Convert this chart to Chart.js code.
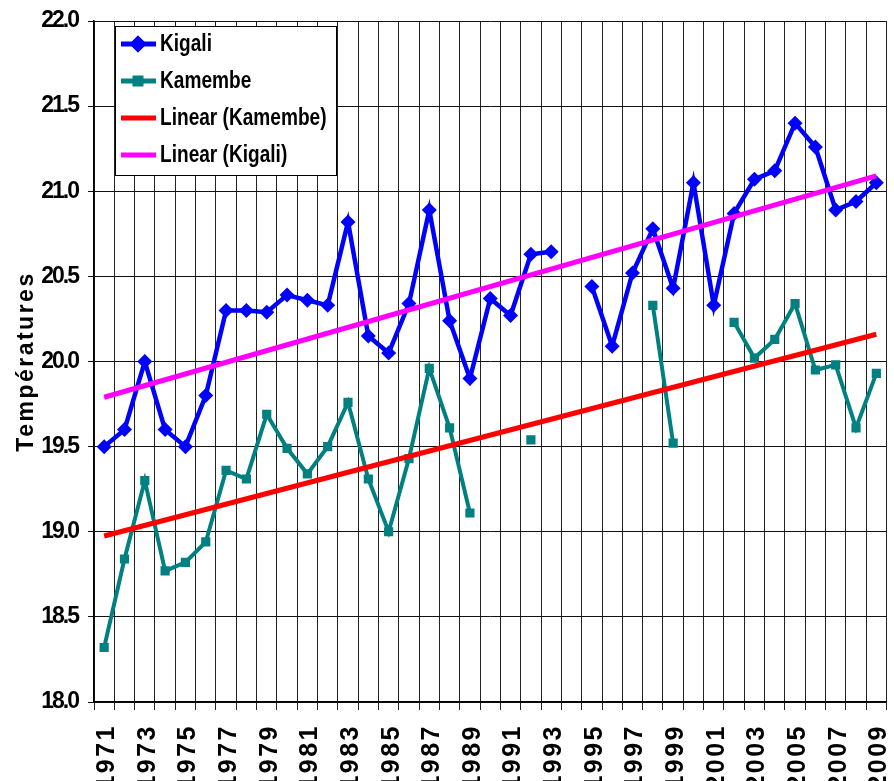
<!DOCTYPE html>
<html>
<head>
<meta charset="utf-8">
<script src="https://cdn.jsdelivr.net/npm/chart.js@4"></script>
<style>
  body { margin: 0; background: #fff; }
  #wrap { width: 894px; height: 781px; }
</style>
</head>
<body>
<div id="wrap"><canvas id="myChart" width="894" height="781"></canvas></div>
<script>
// x labels
const years = ['1971','1972','1973','1974','1975','1976','1977','1978','1979','1980',
  '1981','1982','1983','1984','1985','1986','1987','1988','1989','1990',
  '1991','1992','1993','1994','1995','1996','1997','1998','1999','2000',
  '2001','2002','2003','2004','2005','2006','2007','2008','2009'];

// series values (null = no data)
const kigali = [19.50, 19.60, 20.00, 19.60, 19.50, 19.80, 20.30, 20.30, 20.29, 20.39,
  20.36, 20.33, 20.82, 20.15, 20.05, 20.34, 20.89, 20.24, 19.90, 20.37,
  20.27, 20.63, 20.645, null, 20.44, 20.09, 20.52, 20.78, 20.43, 21.05,
  20.33, 20.87, 21.07, 21.12, 21.40, 21.26, 20.89, 20.94, 21.05];
const kamembe = [18.32, 18.84, 19.30, 18.77, 18.82, 18.94, 19.36, 19.31, 19.69, 19.49,
  19.34, 19.50, 19.76, 19.31, 19.00, 19.43, 19.96, 19.61, 19.11, null,
  null, 19.54, null, null, null, null, null, 20.33, 19.52, null,
  null, 20.23, 20.02, 20.13, 20.34, 19.95, 19.98, 19.61, 19.93];

// trend line ends (first year, last year)
const trendKigali = [19.79, 21.09];
const trendKamembe = [18.975, 20.16];

// y ticks
const yMin = 18.0;
const yMax = 22.0;
const yStep = 0.5;

const wide = "'Liberation Sans', Arial, sans-serif";

function trendData(ends) {
  var arr = years.map(function () { return null; });
  arr[0] = ends[0];
  arr[arr.length - 1] = ends[1];
  return arr;
}

var datasets = [
  { label: 'Linear (Kamembe)', data: trendData(trendKamembe), borderColor: '#ff0000', backgroundColor: '#ff0000',
    borderWidth: 5, pointRadius: 0, spanGaps: true, legendOrder: 2 },
  { label: 'Linear (Kigali)', data: trendData(trendKigali), borderColor: '#ff00ff', backgroundColor: '#ff00ff',
    borderWidth: 5, pointRadius: 0, spanGaps: true, legendOrder: 3 },
  { label: 'Kigali', data: kigali, borderColor: '#0000ff', backgroundColor: '#0000ff',
    borderWidth: 4.5, pointStyle: 'rectRot', pointRadius: 7.5, pointBorderWidth: 0, spanGaps: false, legendOrder: 0 },
  { label: 'Kamembe', data: kamembe, borderColor: '#008080', backgroundColor: '#008080',
    borderWidth: 4, pointStyle: 'rect', pointRadius: 6.5, pointBorderWidth: 0, spanGaps: false, legendOrder: 1 }
];

// letter spacing for some texts (wide year labels, narrow y numbers)
function spaceText(scale, fn, sp) {
  if (!scale || scale['_sp_' + fn]) return;
  var orig = scale[fn];
  scale[fn] = function (a) {
    var c = this.ctx;
    c.save();
    c.letterSpacing = sp;
    orig.call(this, a);
    c.restore();
  };
  scale['_sp_' + fn] = true;
}

const spacingPlugin = {
  id: 'spacing',
  beforeDraw(chart) {
    spaceText(chart.scales.x, 'drawLabels', '2.5px');
    spaceText(chart.scales.y, 'drawTitle', '2.5px');
    spaceText(chart.scales.y, 'drawLabels', '-2px');
  }
};

// legend box inside the plot, like the original
const boxLegend = {
  id: 'boxLegend',
  afterDraw(chart) {
    var ctx = chart.ctx;
    var x0 = 115, y0 = 26, w = 221, h = 149, rowH = 37;
    ctx.save();
    ctx.fillStyle = '#ffffff';
    ctx.fillRect(x0, y0, w, h);
    ctx.strokeStyle = '#000000';
    ctx.lineWidth = 1;
    ctx.strokeRect(x0 + 0.5, y0 + 0.5, w, h);
    var items = chart.data.datasets.slice().sort(function (a, b) { return a.legendOrder - b.legendOrder; });
    items.forEach(function (ds, i) {
      var cy = y0 + 18 + i * rowH;
      ctx.strokeStyle = ds.borderColor;
      ctx.lineWidth = 5;
      ctx.beginPath();
      ctx.moveTo(x0 + 6, cy);
      ctx.lineTo(x0 + 41, cy);
      ctx.stroke();
      if (ds.pointRadius) {
        ctx.fillStyle = ds.backgroundColor;
        Chart.helpers.drawPoint(ctx, { pointStyle: ds.pointStyle, radius: ds.pointRadius + 1, borderWidth: 0, rotation: 0 }, x0 + 23, cy);
        ctx.fill();
      }
      // narrow bold text
      ctx.save();
      ctx.translate(x0 + 45, cy + 1);
      ctx.scale(0.83, 1);
      ctx.fillStyle = '#000';
      ctx.font = 'bold 23px ' + wide;
      ctx.textBaseline = 'middle';
      ctx.textAlign = 'left';
      ctx.fillText(ds.label, 0, 0);
      ctx.restore();
    });
    ctx.restore();
  }
};

var config = {
  type: 'line',
  data: { labels: years, datasets: datasets },
  options: {
    responsive: false,
    animation: false,
    layout: { padding: { top: 21, right: 1, left: 0, bottom: 0 } },
    plugins: {
      legend: { display: false },
      tooltip: { enabled: false },
      title: { display: false }
    },
    scales: {
      x: {
        type: 'category',
        offset: true,
        grid: { offset: true, color: '#222', lineWidth: 1, tickLength: 8, drawTicks: true },
        border: { color: '#000', width: 1.5 },
        ticks: {
          autoSkip: false,
          minRotation: 90,
          maxRotation: 90,
          padding: 14,
          labelOffset: 3,
          color: '#000',
          font: { family: wide, size: 25, weight: 'bold' },
          callback: function (v, i) { return i % 2 === 0 ? years[i] : ''; }
        },
        afterFit: function (s) { s.height = 79; s.paddingLeft = 0; s.paddingRight = 0; }
      },
      y: {
        min: yMin,
        max: yMax,
        grid: { color: '#111', lineWidth: 1, tickLength: 6 },
        border: { color: '#000', width: 1.5 },
        ticks: {
          stepSize: yStep,
          padding: 10,
          color: '#000',
          font: { family: wide, size: 23, weight: 'bold' },
          callback: function (v) { return Number(v).toFixed(1); }
        },
        title: {
          display: true,
          text: 'Températures',
          color: '#000',
          font: { family: wide, size: 23, weight: 'bold' },
          padding: { top: 13, bottom: 0 }
        },
        afterFit: function (s) { s.width = 94; s.paddingTop = 0; s.paddingBottom = 0; }
      }
    }
  },
  plugins: [spacingPlugin, boxLegend]
};

var myChart = new Chart(document.getElementById('myChart'), config);
myChart.draw();
</script>
</body>
</html>
